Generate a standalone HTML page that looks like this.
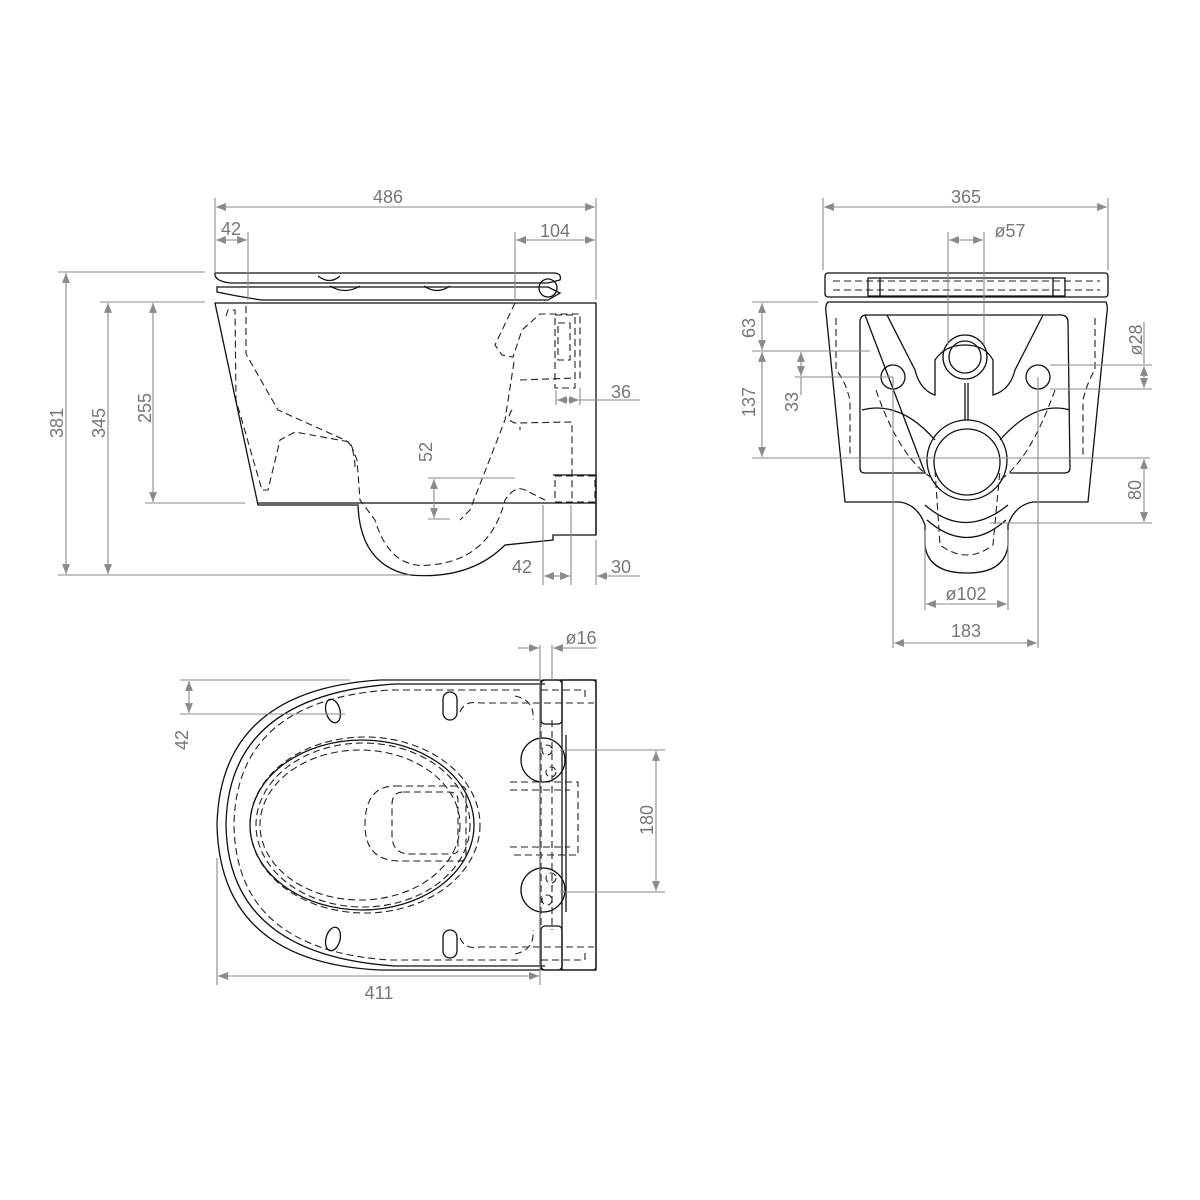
<!DOCTYPE html>
<html><head><meta charset="utf-8"><style>
html,body{margin:0;padding:0;background:#fff}
svg{display:block}
.o{fill:none;stroke:#111;stroke-width:1.3}
.d{fill:none;stroke:#222;stroke-width:1.1;stroke-dasharray:7 4}
.g{fill:none;stroke:#8a8a8a;stroke-width:1.1}
.a{fill:#8a8a8a}
text{font-family:"Liberation Sans",sans-serif;font-size:18px;fill:#777}
</style></head><body>
<svg width="1200" height="1200" viewBox="0 0 1200 1200" xmlns="http://www.w3.org/2000/svg">
<defs>
<marker id="m" viewBox="0 0 10 10" refX="10" refY="5" markerWidth="9" markerHeight="9" orient="auto-start-reverse"><path d="M0,1 L10,5 L0,9 z" class="a"/></marker>
</defs>

<!-- ===== SIDE VIEW ===== -->
<g>
<path class="o" d="M215,273 L555,273 Q562,274 560,280 L548,283 L230,283 Q214,281 215,273 Z"/>
<path class="o" d="M217,287 L548,287 L560,293 L548,300 L262,300 Q240,297 217,292 Z"/>
<circle class="o" cx="548" cy="288" r="9"/>
<path class="o" d="M318,276 Q330,285 340,276 M330,286 Q345,295 360,286 M424,286 Q437,295 450,286"/>
<path class="o" d="M215,303 L596,303 L596,535 L553,535 L553,540 L505,545 Q470,580 410,575 Q360,565 358,505 L258,505 Z"/>
<path class="o" d="M258,503 L596,503"/>
<path class="o" d="M553,475 L596,475 L596,535"/>
<path class="d" d="M226,316 L228,310 L235,310 L236,400 L262,490 L268,490 L280,440 L295,432 L350,442 L357,460 L360,500 L375,520 Q390,570 430,565 Q490,560 505,500 Q515,485 525,490 L545,500"/>
<path class="d" d="M246,306 L246,354 L278,410 L345,440 Q355,445 355,470"/>
<path class="d" d="M515,303 L495,345 L502,355 L513,357 L522,330 L540,314 L580,314 L580,380"/>
<path class="d" d="M514,362 L505,420 L470,510 L460,520"/>
<path class="d" d="M520,380 L575,378 M512,410 Q505,420 515,423 L572,422 L572,500 M520,427 L520,430"/>
<path class="d" d="M555,315 L575,315 L575,388 L555,388 Z M558,323 L570,323 L570,360 L558,360 Z"/>
<path class="d" d="M555,476 L595,476 L595,502 L555,502 Z"/>
</g>
<path class="g" d="M215,198 L215,272 M596,198 L596,300 M248,232 L248,300 M515,232 L515,300"/>
<line class="g" x1="216" y1="207" x2="595" y2="207" marker-start="url(#m)" marker-end="url(#m)"/>
<text x="388" y="203" text-anchor="middle">486</text>
<line class="g" x1="216" y1="240" x2="247" y2="240" marker-start="url(#m)" marker-end="url(#m)"/>
<text x="231" y="235" text-anchor="middle">42</text>
<line class="g" x1="516" y1="240" x2="595" y2="240" marker-start="url(#m)" marker-end="url(#m)"/>
<text x="555" y="237" text-anchor="middle">104</text>
<path class="g" d="M58,272 L205,272 M100,302 L205,302 M145,302 L200,302 M145,503 L245,503 M58,575 L410,575"/>
<line class="g" x1="66" y1="273" x2="66" y2="574" marker-start="url(#m)" marker-end="url(#m)"/>
<text transform="translate(63,423) rotate(-90)" text-anchor="middle">381</text>
<line class="g" x1="108" y1="303" x2="108" y2="574" marker-start="url(#m)" marker-end="url(#m)"/>
<text transform="translate(105,423) rotate(-90)" text-anchor="middle">345</text>
<line class="g" x1="153" y1="303" x2="153" y2="502" marker-start="url(#m)" marker-end="url(#m)"/>
<text transform="translate(151,408) rotate(-90)" text-anchor="middle">255</text>
<path class="g" d="M428,478 L515,478 M428,519 L450,519"/>
<line class="g" x1="434" y1="479" x2="434" y2="518" marker-start="url(#m)" marker-end="url(#m)"/>
<text transform="translate(432,452) rotate(-90)" text-anchor="middle">52</text>
<path class="g" d="M556,390 L556,405 M580,388 L580,405 M580,400 L640,400"/>
<line class="g" x1="557" y1="400" x2="579" y2="400" marker-start="url(#m)" marker-end="url(#m)"/>
<text x="621" y="398" text-anchor="middle">36</text>
<path class="g" d="M543,505 L543,585 M571,505 L571,585 M596,540 L596,585 M600,576 L640,576"/>
<line class="g" x1="544" y1="576" x2="570" y2="576" marker-start="url(#m)" marker-end="url(#m)"/>
<text x="522" y="573" text-anchor="middle">42</text>
<line class="g" x1="616" y1="576" x2="597" y2="576" marker-end="url(#m)"/>
<text x="621" y="573" text-anchor="middle">30</text>

<!-- ===== FRONT VIEW ===== -->
<g>
<rect class="o" x="825" y="273" width="283" height="24" rx="3"/>
<path class="d" d="M833,281 L1100,281 M833,290 L1100,290"/>
<path class="o" d="M868,278 L1065,278 L1065,296 L868,296 Z M880,278 L880,296 M1053,278 L1053,296"/>
<path class="o" d="M828,302 L1106,302 Q1108,306 1107,312 L1088,502 L1033,502 Q1015,505 1008,525 L1008,545 Q1005,573 967,573 Q928,573 925,545 L925,525 Q918,505 900,502 L845,502 L826,312 Q825,305 828,302 Z"/>
<path class="o" d="M865,315 L1062,315 Q1068,316 1068,322 L1070,468 Q1070,473 1064,473 L1010,473 M925,473 L865,473 Q860,473 860,468 L860,322 Q860,316 865,315 Z"/>
<path class="o" d="M887,315 L915,370 Q920,390 935,395 L935,360 Q945,345 965,345 Q985,345 993,360 L993,395 Q1010,390 1015,370 L1043,315"/>
<circle class="o" cx="965" cy="357" r="22"/><circle class="o" cx="965" cy="357" r="16"/>
<circle class="o" cx="893" cy="377" r="12"/><circle class="o" cx="1038" cy="377" r="12"/>
<circle class="o" cx="967" cy="460" r="40"/><circle class="o" cx="967" cy="462" r="33"/>
<path class="o" d="M965,383 L965,420 M968,383 L968,420"/>
<path class="o" d="M862,410 Q900,400 935,440 M1070,410 Q1035,400 1000,440"/>
<path class="o" d="M925,505 Q965,540 1008,505 M927,520 Q967,555 1006,520"/>
<path class="d" d="M836,318 L836,370 Q845,380 850,400 L850,455 M1095,318 L1095,370 Q1088,380 1083,400 L1083,455"/>
<path class="d" d="M876,390 Q900,460 935,480 M1055,390 Q1030,460 1000,480 M935,470 L940,545 Q967,565 993,545 L1000,470"/>
</g>
<path class="g" d="M823,198 L823,270 M1108,198 L1108,270 M948,232 L948,345 M984,232 L984,345"/>
<line class="g" x1="824" y1="207" x2="1107" y2="207" marker-start="url(#m)" marker-end="url(#m)"/>
<text x="966" y="203" text-anchor="middle">365</text>
<line class="g" x1="949" y1="240" x2="983" y2="240" marker-start="url(#m)" marker-end="url(#m)"/>
<text x="1010" y="237" text-anchor="middle">ø57</text>
<path class="g" d="M752,302 L818,302 M752,351 L870,351 M795,377 L893,377 M752,458 L1150,458"/>
<line class="g" x1="762" y1="303" x2="762" y2="350" marker-start="url(#m)" marker-end="url(#m)"/>
<text transform="translate(755,328) rotate(-90)" text-anchor="middle">63</text>
<line class="g" x1="762" y1="352" x2="762" y2="457" marker-start="url(#m)" marker-end="url(#m)"/>
<text transform="translate(755,402) rotate(-90)" text-anchor="middle">137</text>
<line class="g" x1="801" y1="352" x2="801" y2="376" marker-start="url(#m)" marker-end="url(#m)"/>
<line class="g" x1="801" y1="377" x2="801" y2="395"/>
<text transform="translate(798,402) rotate(-90)" text-anchor="middle">33</text>
<path class="g" d="M1050,365 L1152,365 M1050,389 L1152,389 M990,523 L1152,523"/>
<line class="g" x1="1144" y1="322" x2="1144" y2="364"/>
<line class="g" x1="1144" y1="366" x2="1144" y2="388" marker-start="url(#m)" marker-end="url(#m)"/>
<text transform="translate(1142,340) rotate(-90)" text-anchor="middle">ø28</text>
<line class="g" x1="1144" y1="459" x2="1144" y2="522" marker-start="url(#m)" marker-end="url(#m)"/>
<text transform="translate(1141,490) rotate(-90)" text-anchor="middle">80</text>
<path class="g" d="M893,377 L893,648 M1038,377 L1038,648 M925,530 L925,610 M1008,530 L1008,610"/>
<line class="g" x1="926" y1="604" x2="1007" y2="604" marker-start="url(#m)" marker-end="url(#m)"/>
<text x="966" y="600" text-anchor="middle">ø102</text>
<line class="g" x1="894" y1="643" x2="1037" y2="643" marker-start="url(#m)" marker-end="url(#m)"/>
<text x="966" y="637" text-anchor="middle">183</text>

<!-- ===== TOP VIEW ===== -->
<g>
<path class="o" d="M540,680 L380,680 Q220,690 217,825 Q220,962 380,970 L540,970"/>
<path class="o" d="M545,684 L395,684 Q228,695 226,825 Q228,955 395,966 L545,966"/>
<rect class="o" x="540" y="680" width="56" height="290" rx="3"/>
<rect class="o" x="562" y="680" width="34" height="290"/>
<rect class="o" x="541" y="680" width="21" height="44" rx="4"/>
<rect class="o" x="541" y="926" width="21" height="44" rx="4"/>
<path class="d" d="M520,690 L390,690 Q236,700 234,825 Q236,950 390,960 L520,960"/>
<path class="d" d="M515,696 Q535,700 533,720 M515,954 Q535,950 533,930"/>
<ellipse class="d" cx="365" cy="825" rx="115" ry="88"/>
<ellipse class="d" cx="363" cy="825" rx="107" ry="82"/>
<ellipse class="d" cx="360" cy="825" rx="100" ry="75"/>
<ellipse class="o" cx="362" cy="825" rx="112" ry="85"/>
<path class="d" d="M395,786 L460,786 Q466,786 466,792 L466,855 Q466,861 460,861 L400,861 Q365,861 365,825 Q365,786 395,786 Z"/>
<path class="d" d="M403,792 L448,792 Q458,792 458,800 L458,850 Q458,854 450,854 L410,854 Q392,854 392,835 L392,805 Q392,792 403,792 Z"/>
<path class="d" d="M510,782 L578,782 L578,855 L510,855 M510,790 L570,790 M510,847 L570,847"/>
<path class="d" d="M460,712 Q465,700 480,703 L594,703 M460,938 Q465,950 480,947 L594,947"/>
<path class="d" d="M541,690 L585,690 L585,700 M541,960 L585,960 L585,950"/>
<path class="d" d="M541,720 L541,930 M552,720 L552,930"/>
<circle class="o" cx="543" cy="760" r="22"/>
<circle class="o" cx="543" cy="890" r="22"/>
<circle class="d" cx="547" cy="750" r="5"/><circle class="d" cx="551" cy="772" r="5"/>
<circle class="d" cx="547" cy="900" r="5"/><circle class="d" cx="551" cy="878" r="5"/>
<path class="o" d="M566,735 L566,912"/>
<ellipse class="o" cx="333" cy="711" rx="7" ry="12" transform="rotate(-15 333 711)"/>
<ellipse class="o" cx="333" cy="939" rx="7" ry="12" transform="rotate(15 333 939)"/>
<rect class="o" x="443" y="692" width="14" height="28" rx="7"/>
<rect class="o" x="443" y="930" width="14" height="28" rx="7"/>
</g>
<path class="g" d="M180,680 L350,680 M180,714 L345,714 M217,858 L217,985 M540,645 L540,985 M552,645 L552,680 M560,750 L665,750 M560,892 L665,892"/>
<line class="g" x1="189" y1="681" x2="189" y2="713" marker-start="url(#m)" marker-end="url(#m)"/>
<text transform="translate(188,740) rotate(-90)" text-anchor="middle">42</text>
<line class="g" x1="656" y1="751" x2="656" y2="891" marker-start="url(#m)" marker-end="url(#m)"/>
<text transform="translate(653,820) rotate(-90)" text-anchor="middle">180</text>
<line class="g" x1="218" y1="976" x2="539" y2="976" marker-start="url(#m)" marker-end="url(#m)"/>
<text x="379" y="999" text-anchor="middle">411</text>
<line class="g" x1="518" y1="648" x2="539" y2="648" marker-end="url(#m)"/>
<line class="g" x1="597" y1="648" x2="553" y2="648" marker-end="url(#m)"/>
<text x="581" y="644" text-anchor="middle">ø16</text>
</svg>
</body></html>
